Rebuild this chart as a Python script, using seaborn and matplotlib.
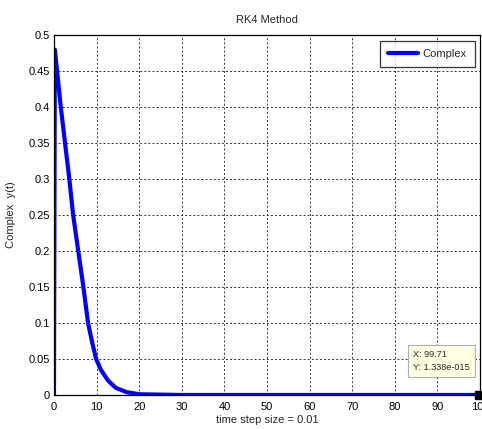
import numpy as np
import pandas as pd
import seaborn as sns
import matplotlib.pyplot as plt

# values
t_vals = [0, 0, 0.2, 1.6, 3.6, 4.5, 5.7, 6.9, 8.0, 9.0, 9.9, 11.0, 12.7, 14.5, 17.0, 20.0,
          30, 40, 50, 60, 70, 80, 90, 99.71]
y_vals = [0, 0.0, 0.48, 0.40, 0.30, 0.25, 0.20, 0.15, 0.10, 0.072, 0.05, 0.035, 0.02, 0.01,
          0.004, 0.001, 0, 0, 0, 0, 0, 0, 0, 1.338e-15]
tip_x = 99.71
tip_y = 1.338e-15
x_ticks = list(range(0, 101, 10))
y_ticks = [0, 0.05, 0.1, 0.15, 0.2, 0.25, 0.3, 0.35, 0.4, 0.45, 0.5]
y_tick_labels = ['0', '0.05', '0.1', '0.15', '0.2', '0.25', '0.3', '0.35', '0.4', '0.45', '0.5']

df = pd.DataFrame({'t': t_vals, 'y': y_vals})

sns.set_style('white')
plt.rcParams['font.family'] = ['Liberation Sans', 'DejaVu Sans']
plt.rcParams['font.size'] = 8

fig = plt.figure(figsize=(4.82, 4.29), dpi=100)
ax = fig.add_axes([0.112, 0.0793, 0.884, 0.8387])

sns.lineplot(data=df, x='t', y='y', estimator=None, sort=False, color='#0000ff',
             linewidth=3, label='Complex', ax=ax)

# data tip marker + box
ax.plot([tip_x], [tip_y], marker='s', color='black', markersize=6, clip_on=False, zorder=5)
ax.text(84.3, 0.032, 'X: 99.71\nY: 1.338e-015', fontsize=6.6, ha='left', va='bottom',
        linespacing=1.5,
        bbox=dict(boxstyle='square,pad=0.55', facecolor='#ffffe1', edgecolor='#b0b0b0', lw=0.8),
        zorder=6)

ax.set_xlim(0, 100)
ax.set_ylim(0, 0.5)
ax.set_xticks(x_ticks)
ax.set_yticks(y_ticks)
ax.set_yticklabels(y_tick_labels)
ax.grid(True, color='#333333', linestyle=(0, (2, 2.2)), linewidth=0.7)
ax.tick_params(direction='in', length=4, width=0.8, colors='black', labelsize=8)
ax.tick_params(axis='x', pad=5)
ax.tick_params(axis='y', pad=3)
for s in ax.spines.values():
    s.set_color('black')
    s.set_linewidth(0.9)

ax.set_title('RK4 Method', fontsize=8, pad=9)
ax.set_xlabel('time step size = 0.01', fontsize=8, labelpad=2)
ax.set_ylabel('Complex  y(t)', fontsize=8, labelpad=9)

leg = ax.legend(loc='upper right', fontsize=8, frameon=True, fancybox=False,
                borderaxespad=0.5, borderpad=0.75, handlelength=2.7, handletextpad=0.35)
leg.get_frame().set_edgecolor('black')
leg.get_frame().set_linewidth(0.9)

fig.savefig('out.png', dpi=100)
